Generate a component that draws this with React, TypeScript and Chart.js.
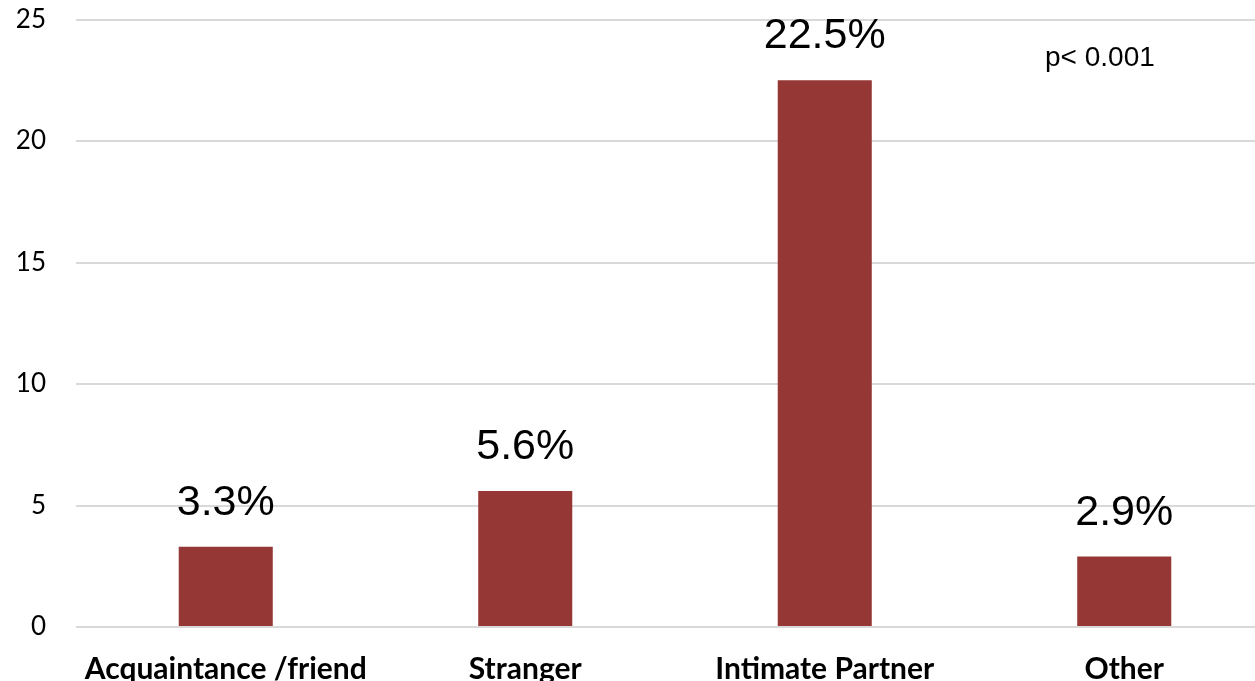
import React, { useEffect, useRef } from "react";
import { Chart, registerables } from "chart.js";

Chart.register(...registerables);

const categories = ["Acquaintance /friend", "Stranger", "Intimate Partner", "Other"];
const percentages = [3.3, 5.6, 22.5, 2.9];
const yTicks = [0, 5, 10, 15, 20, 25];
const note = "p< 0.001";

const BAR_COLOR = "#953735";
const GRID_COLOR = "#d9d9d9";

// Draws the percentage above each bar and the significance note.
const valueLabels = {
  id: "valueLabels",
  afterDatasetsDraw(chart: any) {
    const ctx = chart.ctx;
    const meta = chart.getDatasetMeta(0);
    ctx.save();
    ctx.fillStyle = "#000";
    ctx.font = "43px 'Liberation Sans', Arial, sans-serif";
    ctx.textAlign = "center";
    ctx.textBaseline = "alphabetic";
    meta.data.forEach((bar: any, i: number) => {
      ctx.fillText(percentages[i].toFixed(1) + "%", bar.x, bar.y - 32);
    });
    ctx.font = "28px 'Liberation Sans', Arial, sans-serif";
    ctx.textAlign = "left";
    ctx.fillText(note, 1045, 66);
    ctx.restore();
  },
};

export default function App() {
  const canvasRef = useRef<HTMLCanvasElement | null>(null);

  useEffect(() => {
    const canvas = canvasRef.current;
    if (!canvas) return;
    const chart = new Chart(canvas, {
      type: "bar",
      data: {
        labels: categories,
        datasets: [
          {
            data: percentages,
            backgroundColor: BAR_COLOR,
            borderWidth: 0,
            barPercentage: 0.314,
            categoryPercentage: 1,
          },
        ],
      },
      options: {
        responsive: false,
        animation: false,
        devicePixelRatio: 1,
        layout: { padding: { top: 19.5, left: 0, right: 0, bottom: 0 } },
        plugins: {
          legend: { display: false },
          tooltip: { enabled: false },
        },
        scales: {
          x: {
            grid: { display: false, drawTicks: false },
            border: { display: false },
            ticks: {
              color: "#000",
              padding: 24,
              maxRotation: 0,
              autoSkip: false,
              font: { family: "Lato, 'Open Sans', sans-serif", size: 30, weight: "bold" },
            },
            afterFit(scale: any) {
              scale.height = 73;
              scale.paddingLeft = 0;
              scale.paddingRight = 0;
            },
          },
          y: {
            min: 0,
            max: 25,
            afterBuildTicks(scale: any) {
              scale.ticks = yTicks.map((v) => ({ value: v }));
            },
            grid: { color: GRID_COLOR, lineWidth: 2, drawTicks: false },
            border: { display: false },
            ticks: {
              color: "#000",
              padding: 30,
              font: { family: "Lato, 'Open Sans', sans-serif", size: 26 },
            },
            afterFit(scale: any) {
              scale.width = 76;
              scale.paddingTop = 0;
              scale.paddingBottom = 0;
            },
          },
        },
      },
      plugins: [valueLabels],
    });
    return () => chart.destroy();
  }, []);

  return (
    <div
      style={{
        position: "fixed",
        left: 0,
        top: 0,
        width: 1255,
        height: 681,
        overflow: "hidden",
        background: "#fff",
      }}
    >
      <canvas ref={canvasRef} width={1274} height={700} style={{ display: "block" }} />
    </div>
  );
}
